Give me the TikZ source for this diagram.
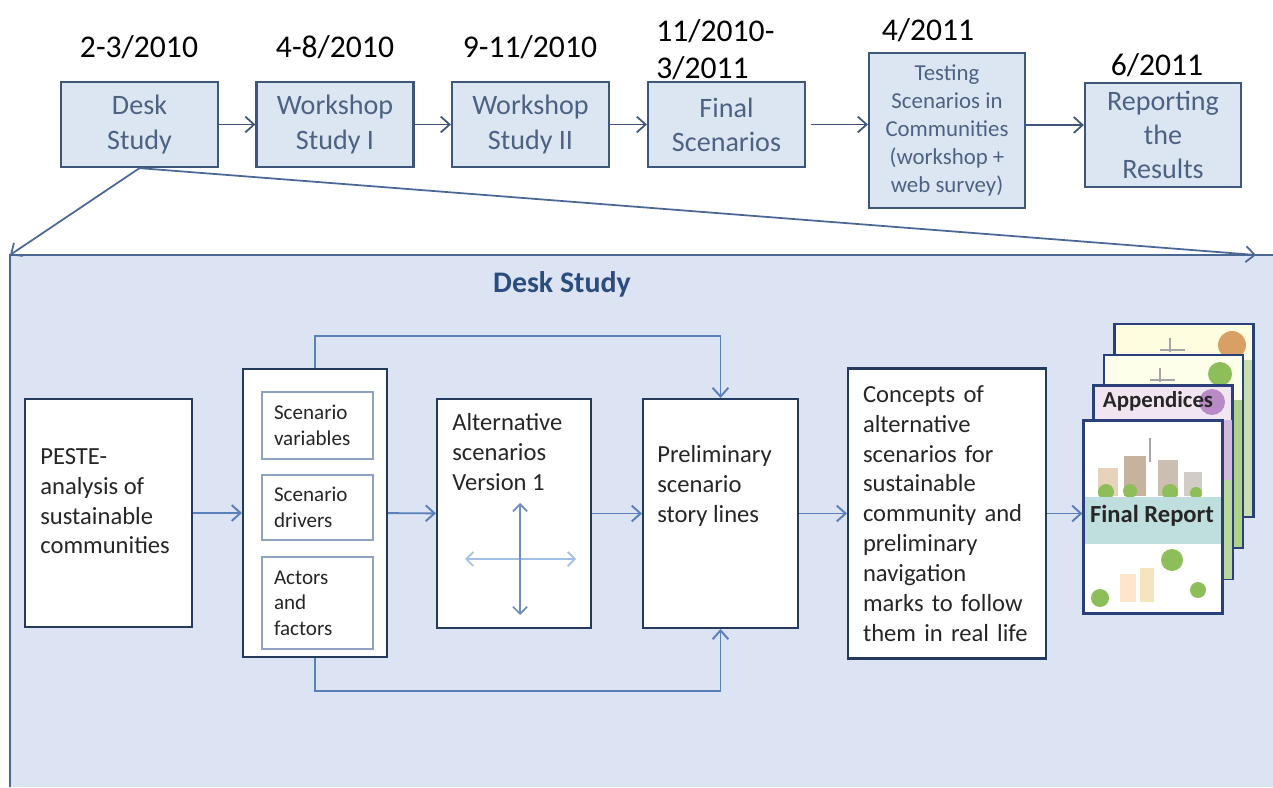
\documentclass[tikz,border=0pt]{standalone}
\usepackage{fontspec}
\setmainfont{Carlito}
\usepackage{tikz}
\usetikzlibrary{arrows.meta}
\definecolor{panel}{HTML}{DCE3F2}
\definecolor{phase}{HTML}{DCE6F2}
\definecolor{phaseline}{HTML}{3E5679}
\definecolor{phasetext}{HTML}{4D6282}
\definecolor{frame}{HTML}{4B6895}
\definecolor{flow}{HTML}{5A80BC}
\definecolor{navy}{HTML}{243B5E}
\definecolor{soft}{HTML}{8FA2C2}
\definecolor{heading}{HTML}{2B4C7E}
\definecolor{ink}{HTML}{262626}
\definecolor{crossv}{HTML}{6D8CC0}
\definecolor{crossh}{HTML}{A3BFE3}
\definecolor{sheetline}{HTML}{2B3F7A}
\definecolor{leaf}{HTML}{8DBE5A}
\definecolor{sun}{HTML}{D9A066}
\definecolor{plum}{HTML}{B88AC6}

\begin{document}
\begin{tikzpicture}[x=0.02cm,y=-0.02cm,
  phasebox/.style={draw=phaseline,line width=1.3pt,fill=phase,text=phasetext,align=center,
    minimum width=3.14cm,minimum height=1.7cm,inner sep=0pt,font=\fontsize{16}{19.5}\selectfont},
  date/.style={inner sep=0pt,font=\fontsize{18}{21}\selectfont},
  link/.style={draw=phaseline,line width=1pt,-{Straight Barb[length=5pt,width=9pt]}},
  zoom/.style={draw=frame,line width=1pt,-{Straight Barb[length=5pt,width=9pt]}},
  whitebox/.style={draw=navy,line width=1.2pt,fill=white,inner sep=0pt},
  body/.style={text=ink,align=left,inner sep=0pt,font=\fontsize{14}{17}\selectfont},
  subbox/.style={draw=soft,line width=0.8pt,fill=white,text=ink,align=left,text width=1.74cm,
    inner xsep=0.24cm,inner ysep=0pt,font=\fontsize{12}{14.5}\selectfont},
  feed/.style={draw=flow,line width=1.1pt,-{Straight Barb[length=5pt,width=9pt]}},
  twoway/.style={line width=1pt,{Straight Barb[length=4pt,width=8pt]}-{Straight Barb[length=4pt,width=8pt]}},
  sheet/.style={draw=sheetline,line width=1.3pt,minimum width=2.78cm,minimum height=3.86cm,inner sep=0pt}]
  \useasboundingbox (0,0) rectangle (1273,787);

  % Phases of the project
  \node[phasebox] (desk) at (139.5,124.5) {Desk\\Study};
  \node[phasebox] (ws1) at (335,124.5) {Workshop\\Study I};
  \node[phasebox] (ws2) at (530.5,124.5) {Workshop\\Study II};
  \node[phasebox] (final) at (726.5,124.5) {Final\\Scenarios};
  \node[phasebox,minimum width=3.12cm,minimum height=3.1cm,font=\fontsize{13}{16}\selectfont] (test) at (947,130.5)
    {Testing\\Scenarios in\\Communities\\(workshop +\\web survey)};
  \node[phasebox,minimum width=3.12cm,minimum height=2.08cm] (report) at (1163,135) {Reporting\\the\\Results};

  % Dates
  \node[date] (d1) at (139,47) {2-3/2010};
  \node[date] (d2) at (335,47) {4-8/2010};
  \node[date] (d3) at (530,47) {9-11/2010};
  \node[date,align=left,anchor=north west] (d4) at (656,19) {11/2010-\\3/2011};
  \node[date] (d5) at (928,30) {4/2011};
  \node[date] (d6) at (1157,65) {6/2011};

  \draw[link] (desk) -- (ws1);
  \draw[link] (ws1) -- (ws2);
  \draw[link] (ws2) -- (final);
  \draw[link,shorten <=3pt] (final) -- (final -| test.west);
  \draw[link] (test.east |- 0,125) -- (report.west |- 0,125);

  % Desk study panel
  \coordinate (panel nw) at (10,255);
  \coordinate (panel ne) at (1256,255);
  \fill[panel] (panel nw) rectangle (1273,787);
  \draw[frame,line width=1.3pt] (10,787) -- (panel nw) -- (1273,255);
  \draw[zoom] (desk.south) -- (panel nw);
  \draw[zoom] (desk.south) -- (panel ne);
  \node[text=heading,font=\fontsize{17}{20}\selectfont\bfseries] (head) at (562,284) {Desk Study};

  % Steps
  \node[whitebox,minimum width=3.34cm,minimum height=4.56cm] (peste) at (108.5,513) {};
  \node[body,anchor=north west] (peste text) at (40,448) {PESTE-\\analysis of\\sustainable\\communities};

  \node[whitebox,minimum width=2.88cm,minimum height=5.76cm] (group) at (315,513) {};
  \node[subbox,minimum height=1.34cm] (vars) at (317.5,425.5) {Scenario\\variables};
  \node[subbox,minimum height=1.30cm] (drivers) at (317.5,507.5) {Scenario\\drivers};
  \node[subbox,minimum height=1.84cm] (actors) at (317.5,603) {Actors\\and\\factors};

  \node[whitebox,minimum width=3.08cm,minimum height=4.58cm] (alt) at (514,513.5) {};
  \node[body,anchor=north west] (alt text) at (452,413) {Alternative\\scenarios\\Version 1};
  \coordinate (ax top) at (520,503);
  \coordinate (ax bottom) at (520,615);
  \coordinate (ax left) at (465,559);
  \coordinate (ax right) at (576,559);
  \draw[twoway,draw=crossh] (ax left) -- (ax right);
  \draw[twoway,draw=crossv] (ax top) -- (ax bottom);

  \node[whitebox,minimum width=3.1cm,minimum height=4.58cm] (prelim) at (720.5,513.5) {};
  \node[body,anchor=north west] (prelim text) at (657,445) {Preliminary\\scenario\\story lines};

  \node[whitebox,body,text width=3.36cm,inner xsep=0.3cm,minimum height=5.8cm] (concepts) at (947,513.5)
    {Concepts of\\alternative\\scenarios for\\sustainable\\community and\\preliminary\\navigation\\marks to follow\\them in real life};

  % Report stack
  \node[sheet,fill=yellow!12] (p4) at (1184,420.5) {};
  \fill[sun] (1232,345) circle (14);
  \draw[gray!70,line width=0.6pt] (1170,338) -- (1170,352) (1160,350) -- (1185,350);
  \fill[leaf!50] (1244,360) rectangle (1252,516);
  \node[sheet,fill=green!8!yellow!8] (p3) at (1173.5,451.5) {};
  \fill[leaf] (1220,374) circle (12);
  \draw[gray!70,line width=0.6pt] (1160,368) -- (1160,382) (1150,380) -- (1175,380);
  \fill[leaf!70] (1234,400) rectangle (1242,547);
  \node[sheet,fill=violet!10] (p2) at (1163,482) {};
  \fill[plum] (1212,402) circle (13);
  \fill[plum!60] (1224,420) rectangle (1232,480);
  \fill[leaf!60] (1224,480) rectangle (1232,579);
  \node[text=ink,font=\fontsize{13}{15}\selectfont\bfseries] (appx) at (1158,401) {Appendices};
  \node[sheet,fill=white] (p1) at (1153,517) {};
  \draw[gray!70,line width=0.6pt] (1150,438) -- (1150,462);
  \fill[brown!35] (1098,468) rectangle (1118,496);
  \fill[brown!50!gray!60] (1124,456) rectangle (1146,496);
  \fill[brown!40!gray!50] (1158,460) rectangle (1178,496);
  \fill[brown!25!gray!40] (1184,472) rectangle (1202,496);
  \fill[leaf] (1106,492) circle (8) (1130,491) circle (7) (1170,492) circle (8) (1196,493) circle (6);
  \fill[teal!25] (1085,497) rectangle (1221,544);
  \node[text=ink,font=\fontsize{14}{16}\selectfont\bfseries] (freport) at (1152,516) {Final Report};
  \fill[leaf] (1172,560) circle (11) (1100,598) circle (9) (1198,590) circle (8);
  \fill[orange!20] (1120,574) rectangle (1136,602);
  \fill[yellow!35!brown!30] (1140,568) rectangle (1154,602);

  % Flow through the steps
  \draw[feed] (peste) -- (group);
  \draw[feed] (group) -- (alt);
  \draw[feed] (alt) -- (prelim);
  \draw[feed] (prelim) -- (concepts);
  \draw[feed] (concepts.east) -- (concepts.east -| p1.west);
  \draw[feed] (group.north) -- ++(0,-32) -| (prelim.north);
  \draw[feed] (group.south) -- ++(0,33) -| (prelim.south);
\end{tikzpicture}
\end{document}
